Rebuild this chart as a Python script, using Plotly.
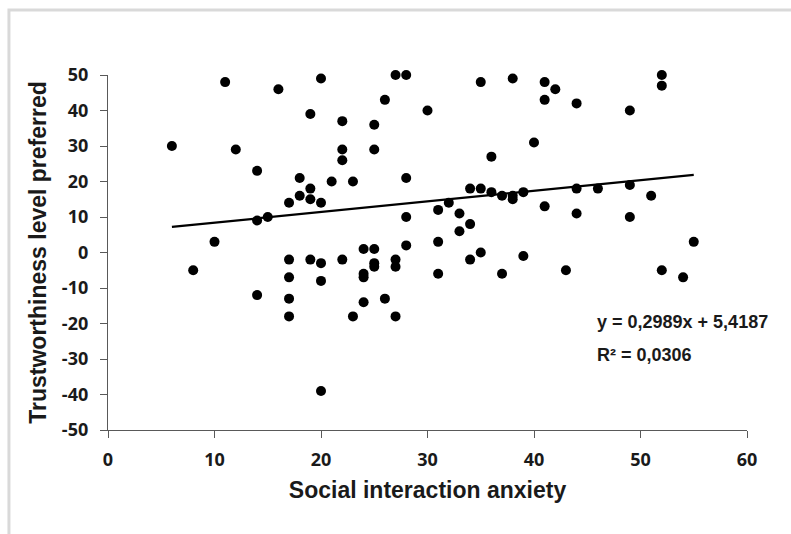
import plotly.graph_objects as go

# Social interaction anxiety score (x) and preferred trustworthiness level (y)
anxiety = [6, 8, 10, 11, 12, 14, 14, 14, 15, 16,
           17, 17, 17, 17, 17, 18, 18, 19, 19, 19,
           19, 20, 20, 20, 20, 20, 21, 22, 22, 22,
           22, 23, 23, 24, 24, 24, 24, 25, 25, 25,
           25, 25, 26, 26, 27, 27, 27, 27, 28, 28,
           28, 28, 30, 31, 31, 31, 32, 33, 33, 34,
           34, 34, 35, 35, 35, 36, 36, 37, 37, 38,
           38, 38, 39, 39, 40, 41, 41, 41, 42, 43,
           44, 44, 44, 46, 49, 49, 49, 51, 52, 52,
           52, 54, 55]
trust = [30, -5, 3, 48, 29, 23, 9, -12, 10, 46,
         14, -2, -7, -13, -18, 21, 16, 39, 18, 15,
         -2, 49, 14, -3, -8, -39, 20, 37, 29, 26,
         -2, 20, -18, 1, -6, -7, -14, 36, 29, 1,
         -3, -4, 43, -13, 50, -2, -4, -18, 50, 21,
         10, 2, 40, 12, 3, -6, 14, 11, 6, 18,
         8, -2, 48, 18, 0, 27, 17, 16, -6, 49,
         16, 15, 17, -1, 31, 48, 43, 13, 46, -5,
         42, 18, 11, 18, 40, 19, 10, 16, 50, 47,
         -5, -7, 3]

# Linear trend reported for the sample
slope = 0.2989
intercept = 5.4187
r_squared = 0.0306

x_ticks = [0, 10, 20, 30, 40, 50, 60]
y_ticks = [-50, -40, -30, -20, -10, 0, 10, 20, 30, 40, 50]

trend_x = [min(anxiety), max(anxiety)]
trend_y = [slope * v + intercept for v in trend_x]

fig = go.Figure()
fig.add_trace(go.Scatter(
    x=anxiety, y=trust, mode="markers",
    marker=dict(color="black", size=10),
    cliponaxis=False, showlegend=False,
))
fig.add_trace(go.Scatter(
    x=trend_x, y=trend_y, mode="lines",
    line=dict(color="black", width=2.2),
    showlegend=False,
))

eq_text = "y = {}x + {}".format(str(slope).replace(".", ","), str(intercept).replace(".", ","))
r2_text = "R² = {}".format(f"{r_squared:.4f}".replace(".", ","))

ann_font = dict(family="Liberation Sans, Arial", size=18, color="#1a1a1a", weight="bold")
fig.add_annotation(x=0.762, y=0.304, xref="paper", yref="paper", text=eq_text,
                   showarrow=False, xanchor="left", yanchor="middle", font=ann_font)
fig.add_annotation(x=0.762, y=0.211, xref="paper", yref="paper", text=r2_text,
                   showarrow=False, xanchor="left", yanchor="middle", font=ann_font)

# light grey frame around the chart
fig.add_shape(type="rect", xref="paper", yref="paper",
              x0=-0.155, y0=-0.35, x1=1.12, y1=1.183,
              line=dict(color="#d9d9d9", width=3), layer="below")

tick_font = dict(family="Open Sans", size=18, color="#1a1a1a", weight="bold")
title_font = dict(family="Liberation Sans, Arial", size=23, color="#1a1a1a", weight="bold")

fig.update_xaxes(
    range=[0, 60], tickvals=x_ticks, ticktext=[str(v) for v in x_ticks],
    showgrid=False, zeroline=False, showline=True, linecolor="#595959", linewidth=1.3,
    ticks="outside", ticklen=7, tickcolor="#595959", tickwidth=1.3,
    tickfont=tick_font, ticklabelstandoff=6,
    title=dict(text="Social interaction anxiety", font=title_font, standoff=12),
)
fig.update_yaxes(
    range=[-50, 50], tickvals=y_ticks, ticktext=[str(v) for v in y_ticks],
    showgrid=False, zeroline=False, showline=True, linecolor="#595959", linewidth=1.3,
    ticks="outside", ticklen=7, tickcolor="#595959", tickwidth=1.3,
    tickfont=tick_font, ticklabelstandoff=8,
    title=dict(text="Trustworthiness level preferred", font=title_font, standoff=8),
)

fig.update_layout(
    width=791, height=534,
    margin=dict(l=108, r=44, t=75, b=104),
    paper_bgcolor="white", plot_bgcolor="white",
)

fig.write_html("out.html")
